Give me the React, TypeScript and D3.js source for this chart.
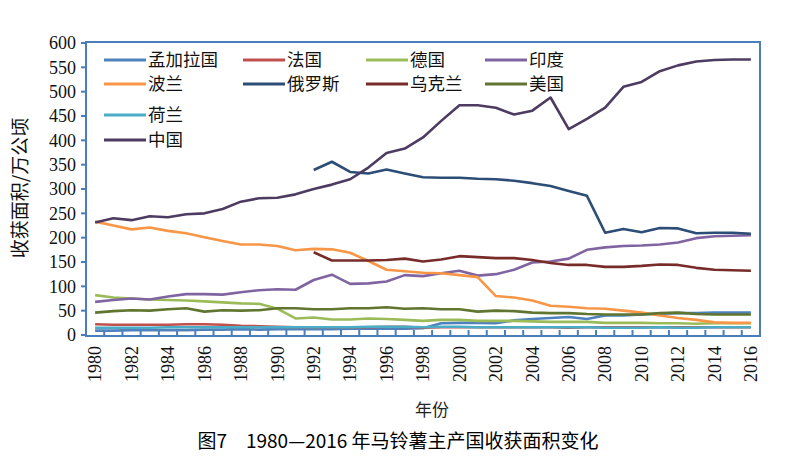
import React from "react";
import * as d3 from "d3";

const years: number[] = d3.range(1980, 2017);
const yTicks: number[] = [0, 50, 100, 150, 200, 250, 300, 350, 400, 450, 500, 550, 600];
const xLabelYears: number[] = years.filter((y) => y % 2 === 0);

const NA = null;
const nul12 = [NA, NA, NA, NA, NA, NA, NA, NA, NA, NA, NA, NA];

const bangladesh: (number | null)[] = [9, 9, 10, 10, 10, 10, 11, 11, 12, 11, 12, 12, 12, 12, 13, 13, 13, 13, 14, 24, 25, 25, 24, 30, 33, 35, 37, 33, 40, 40, 42, 44, 45, 45, 46, 46, 46];
const france: (number | null)[] = [22, 21, 21, 21, 21, 22, 22, 21, 19, 18, 17, 16, 16, 16, 16, 16, 17, 17, 15, 16, 16, 16, 16, 16, 16, 16, 15, 16, 16, 16, 16, 16, 16, 16, 16, 16, 16];
const germany: (number | null)[] = [82, 77, 75, 73, 72, 71, 69, 67, 65, 64, 54, 34, 36, 32, 32, 34, 33, 31, 29, 31, 31, 29, 29, 29, 28, 27, 27, 27, 25, 25, 25, 24, 24, 23, 24, 24, 24];
const india: (number | null)[] = [68, 72, 75, 73, 79, 84, 84, 83, 88, 92, 94, 93, 113, 124, 105, 106, 110, 123, 121, 127, 132, 122, 125, 134, 149, 151, 157, 175, 180, 183, 184, 186, 190, 199, 203, 204, 205];
const poland: (number | null)[] = [233, 225, 217, 221, 214, 209, 201, 193, 186, 186, 183, 174, 177, 176, 169, 152, 134, 131, 128, 127, 123, 119, 80, 77, 71, 60, 58, 55, 54, 50, 46, 40, 35, 31, 26, 25, 25];
const russia: (number | null)[] = [...nul12, 339, 356, 335, 332, 340, 332, 324, 323, 323, 321, 320, 317, 312, 306, 296, 286, 210, 218, 211, 220, 219, 209, 210, 210, 208];
const ukraine: (number | null)[] = [...nul12, 170, 153, 153, 153, 154, 157, 151, 155, 162, 160, 158, 158, 154, 148, 144, 144, 140, 140, 142, 145, 144, 138, 134, 133, 132];
const usa: (number | null)[] = [46, 49, 51, 50, 53, 55, 48, 51, 50, 51, 55, 55, 53, 53, 55, 55, 57, 54, 55, 53, 53, 48, 50, 49, 46, 45, 45, 43, 42, 42, 42, 45, 46, 43, 42, 42, 42];
const netherlands: (number | null)[] = [15, 15, 15, 15, 16, 16, 16, 16, 16, 16, 16, 16, 16, 16, 16, 17, 17, 17, 16, 17, 17, 16, 16, 16, 16, 16, 16, 16, 15, 15, 15, 16, 15, 15, 16, 16, 16];
const china: (number | null)[] = [231, 240, 236, 244, 242, 248, 250, 259, 274, 281, 282, 289, 300, 309, 320, 344, 374, 383, 406, 440, 472, 472, 467, 453, 461, 488, 423, 444, 467, 510, 520, 542, 554, 562, 565, 566, 566];

const seriesNames: string[] = ["孟加拉国", "法国", "德国", "印度", "波兰", "俄罗斯", "乌克兰", "美国", "荷兰", "中国"];
const seriesValues = [bangladesh, france, germany, india, poland, russia, ukraine, usa, netherlands, china];
const seriesColors: string[] = ["#4F81BD", "#C0504D", "#9BBB59", "#8064A2", "#F79646", "#2C4D75", "#772C2A", "#5F7530", "#4BACC6", "#4D3B62"];

const yTitle = "收获面积/万公顷";
const xTitle = "年份";
const caption = "图7\u30001980—2016 年马铃薯主产国收获面积变化";

export default function App() {
  const W = 793, H = 461;
  const left = 86, right = 760, top = 43, bottom = 335;
  const x = d3.scaleBand<number>().domain(years).range([left, right]).paddingInner(0).paddingOuter(0);
  const cx = (yr: number) => (x(yr) as number) + x.bandwidth() / 2;
  const y = d3.scaleLinear().domain([0, 600]).range([bottom, top]);
  const axisColor = "#4A7EBB";

  const line = d3
    .line<{ yr: number; v: number | null }>()
    .defined((d) => d.v !== null)
    .x((d) => cx(d.yr))
    .y((d) => y(d.v as number));

  const boundaries = [...years.map((yr) => x(yr) as number), right];

  const legendCols = [104, 243, 366, 485];
  const legendRows = [60, 84, 115, 140];
  const legendPos = (i: number) => {
    if (i < 8) return { lx: legendCols[i % 4], ly: legendRows[Math.floor(i / 4)] };
    return { lx: legendCols[0], ly: legendRows[i - 6] };
  };

  const serif = "'Liberation Serif', 'DejaVu Serif', serif";
  const cjk = "'Noto Sans CJK SC', 'Noto Sans', sans-serif";

  return (
    <svg width={W} height={H} style={{ position: "absolute", left: 0, top: 0, background: "#fff" }}>
      <rect x={0} y={0} width={W} height={H} fill="#fff" />
      {/* plot frame */}
      <rect x={left} y={top - 1} width={right - left} height={bottom + 1 - (top - 1)} fill="none" stroke={axisColor} strokeWidth={2} />
      {/* y ticks */}
      {yTicks.map((t) => (
        <g key={"yt" + t}>
          <line x1={left - 5} x2={left} y1={y(t)} y2={y(t)} stroke={axisColor} strokeWidth={2} />
          <text x={left - 10} y={y(t)} dy="0.35em" textAnchor="end" fontFamily={serif} fontSize={18} fill="#111">
            {t}
          </text>
        </g>
      ))}
      {/* x ticks */}
      {boundaries.map((b, i) => (
        <line key={"xt" + i} x1={b} x2={b} y1={bottom + 1} y2={bottom - 5} stroke={axisColor} strokeWidth={2} />
      ))}
      {xLabelYears.map((yr) => (
        <text
          key={"xl" + yr}
          transform={`translate(${cx(yr)},${bottom + 11}) rotate(-90)`}
          textAnchor="end"
          dy="0.35em"
          fontFamily={serif}
          fontSize={18}
          fill="#111"
        >
          {yr}
        </text>
      ))}
      {/* series */}
      {seriesValues.map((vals, i) => (
        <path
          key={"s" + i}
          d={line(years.map((yr, j) => ({ yr, v: vals[j] }))) || ""}
          fill="none"
          stroke={seriesColors[i]}
          strokeWidth={2.6}
          strokeLinejoin="round"
        />
      ))}
      {/* legend */}
      {seriesNames.map((n, i) => {
        const { lx, ly } = legendPos(i);
        return (
          <g key={"lg" + i}>
            <line x1={lx} x2={lx + 42} y1={ly} y2={ly} stroke={seriesColors[i]} strokeWidth={3} />
            <text x={lx + 44} y={ly} dy="0.35em" fontFamily={cjk} fontSize={17.5} fill="#111">
              {n}
            </text>
          </g>
        );
      })}
      {/* titles */}
      <text transform={`translate(20,188) rotate(-90)`} textAnchor="middle" dy="0.35em" fontFamily={cjk} fontSize={19} fill="#111">
        {yTitle}
      </text>
      <text x={432} y={410} textAnchor="middle" dy="0.35em" fontFamily={cjk} fontSize={17} fill="#222">
        {xTitle}
      </text>
      <text x={398} y={441} textAnchor="middle" dy="0.35em" fontFamily={cjk} fontSize={19} fill="#000">
        {caption}
      </text>
    </svg>
  );
}
